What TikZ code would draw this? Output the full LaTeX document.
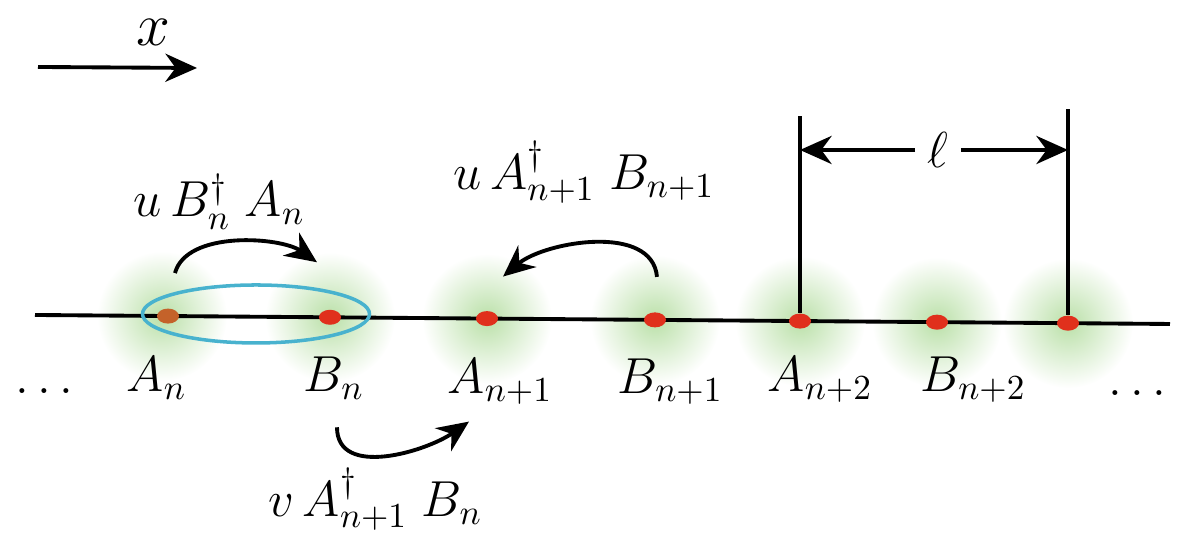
\documentclass[tikz,border=0pt]{standalone}
\usetikzlibrary{shapes.geometric,arrows.meta,calc}
\definecolor{dotred}{RGB}{224,48,28}
\definecolor{dotbrown}{RGB}{196,98,42}
\definecolor{ringcyan}{RGB}{72,178,206}
\definecolor{glowgreen}{RGB}{186,224,168}
\begin{document}
\begin{tikzpicture}[
  dot/.style={ellipse, fill=dotred, minimum width=0.22cm, minimum height=0.15cm, inner sep=0pt},
  lbl/.style={anchor=base west, inner sep=0pt, font=\Large},
  hop/.style={line width=1.1pt, -{Stealth[length=9pt,width=8pt]}},
  glow/.style={inner color=glowgreen, outer color=white},
]
  \useasboundingbox (0,0) rectangle (11.88,5.41);

  % soft green glow round every site
  \foreach \x/\y in {1.62/2.249, 3.30/2.237, 4.87/2.224, 6.55/2.211, 8.00/2.199, 9.37/2.188, 10.68/2.178}
    \shade[glow] (\x,\y) circle (0.65);

  % direction of x
  \coordinate (xs) at (0.38,4.74);
  \coordinate (xe) at (1.97,4.73);
  \draw[hop] (xs) -- (xe);
  \node[font=\LARGE, inner sep=0pt] (xlab) at (1.53,5.09) {$x$};

  % the chain
  \draw[line width=1.1pt] (0.35,2.26) -- (11.70,2.17);
  \draw[ringcyan, line width=1pt] (2.56,2.27) ellipse (1.135 and 0.29);

  % sites
  \node[dot, fill=dotbrown] (An) at (1.68,2.249) {};
  \node[dot] (Bn)  at (3.30,2.237) {};
  \node[dot] (An1) at (4.87,2.224) {};
  \node[dot] (Bn1) at (6.55,2.211) {};
  \node[dot] (An2) at (8.00,2.199) {};
  \node[dot] (Bn2) at (9.37,2.188) {};
  \node[dot] (An3) at (10.68,2.178) {};

  % site names
  \node[lbl] (dotsL) at (0.15,1.47) {$\ldots$};
  \node[lbl] (lAn)  at (1.26,1.49) {$A_n$};
  \node[lbl] (lBn)  at (3.03,1.49) {$B_n$};
  \node[lbl] (lAn1) at (4.47,1.47) {$A_{n+1}$};
  \node[lbl] (lBn1) at (6.17,1.47) {$B_{n+1}$};
  \node[lbl] (lAn2) at (7.67,1.49) {$A_{n+2}$};
  \node[lbl] (lBn2) at (9.20,1.49) {$B_{n+2}$};
  \node[lbl] (dotsR) at (11.08,1.45) {$\ldots$};

  % hopping terms
  \node[lbl] (tu1) at (1.33,3.24) {$u\,B_n^{\dagger}\;A_n$};
  \draw[hop] ($(An)+(0.07,0.43)$) to[out=75,in=145,looseness=0.8] ($(Bn)+(-0.13,0.55)$);

  \node[lbl] (tu2) at (4.53,3.51) {$u\,A_{n+1}^{\dagger}\;B_{n+1}$};
  \draw[hop] ($(Bn1)+(0.02,0.43)$) to[out=95,in=40,looseness=0.9] ($(An1)+(0.16,0.42)$);

  \node[lbl] (tv) at (2.68,0.24) {$v\,A_{n+1}^{\dagger}\;B_n$};
  \draw[hop] ($(Bn)+(0.07,-1.10)$) to[out=-90,in=215] ($(An1)+(-0.18,-1.03)$);

  % lattice constant
  \draw[line width=1pt] (An2.north) -- ++(0,1.97) coordinate (lL);
  \draw[line width=1pt] (An3.north) -- ++(0,2.06) coordinate (lR);
  \node[font=\Large] (ell) at (9.38,3.91) {$\ell$};
  \draw[hop] (ell.west) -- (ell.west -| lL);
  \draw[hop] (ell.east) -- (ell.east -| lR);
\end{tikzpicture}
\end{document}
